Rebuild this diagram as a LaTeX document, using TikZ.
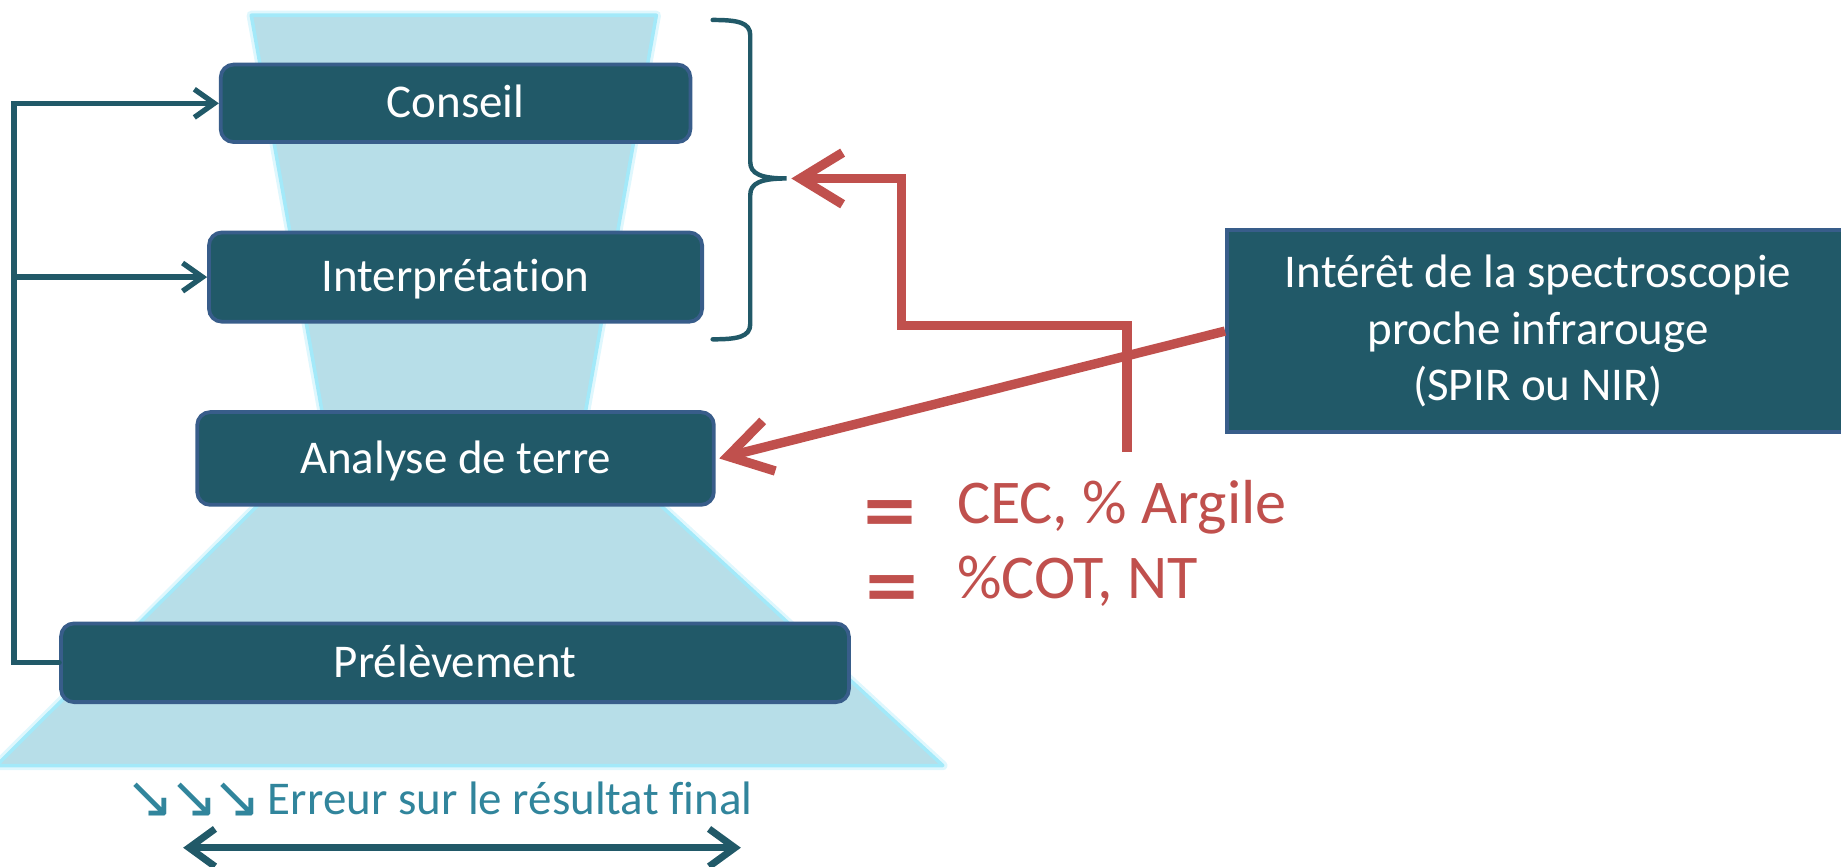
\documentclass[tikz,border=0pt]{standalone}
\usepackage{fontspec}
\setmainfont{Carlito}[Ligatures=NoCommon]
\newfontfamily\dejavu{DejaVu Sans}
\usetikzlibrary{arrows.meta}

\definecolor{boxfill}{HTML}{215968}
\definecolor{boxline}{HTML}{385D8A}
\definecolor{funnel}{HTML}{B7DEE8}
\definecolor{funnelglow}{HTML}{A3E9F9}
\definecolor{accent}{HTML}{C0504D}
\definecolor{note}{HTML}{31859C}

\begin{document}
\begin{tikzpicture}[x=1pt,y=-1pt,
  stepbox/.style={draw=boxline, line width=3.2pt, fill=boxfill, rounded corners=11pt,
    text=white, font=\fontsize{40}{46}\selectfont, text height=25pt, text depth=0pt, inner sep=0pt},
  infobox/.style={draw=boxline, line width=3.2pt, fill=boxfill, text=white,
    font=\fontsize{40}{48}\selectfont, align=center, inner sep=0pt},
  funnelpart/.style={fill=funnel, draw=funnelglow, line width=3pt, line join=round},
  funnelhalo/.style={draw=funnelglow, line width=8pt, line join=round, opacity=.35},
  feed/.style={draw=boxfill, line width=4.5pt, line cap=round, -{Straight Barb[length=17pt,width=24pt]}},
  spir/.style={draw=accent, line width=8pt, -{Straight Barb[length=36pt,width=44pt]}},
  span/.style={draw=boxfill, line width=6pt, {Straight Barb[length=22pt,width=32pt]}-{Straight Barb[length=22pt,width=32pt]}},
  bracket/.style={draw=boxfill, line width=3.8pt, line cap=round},
  eqmark/.style={text=accent, font=\dejavu\bfseries\fontsize{60}{60}\selectfont, inner sep=0pt, anchor=base},
  result/.style={text=accent, font=\fontsize{53}{60}\selectfont, inner sep=0pt, anchor=base west},
  caption/.style={text=note, font=\fontsize{40}{46}\selectfont, inner sep=0pt, anchor=base west}
]
\useasboundingbox (0,0) rectangle (1568,738);
\clip (0,0) rectangle (1568,738);

% funnel behind the steps: narrow upper part, wide lower part
\draw[funnelhalo] (214,13) -- (559,13) -- (497,360) -- (276,360) -- cycle;
\draw[funnelhalo] (222,428) -- (560,428) -- (803,652) -- (-3,652) -- cycle;
\draw[funnelpart] (214,13) -- (559,13) -- (497,360) -- (276,360) -- cycle;
\draw[funnelpart] (222,428) -- (560,428) -- (803,652) -- (-3,652) -- cycle;

% steps of the soil analysis chain
\node[stepbox, minimum width=400pt, minimum height=66pt] (con) at (388,88) {Conseil};
\node[stepbox, minimum width=420pt, minimum height=76pt] (int) at (388,236) {Interprétation};
\node[stepbox, minimum width=440pt, minimum height=79pt] (ana) at (388,390.5) {Analyse de terre};
\node[stepbox, minimum width=671pt, minimum height=67pt] (pre) at (387.5,564.5) {Prélèvement};

% near-infrared spectroscopy box
\node[infobox, minimum width=530pt, minimum height=172pt] (nir) at (1310,282)
  {Intérêt de la spectroscopie\\proche infrarouge\\(SPIR ou NIR)};

% feedback rail on the left
\coordinate (rail) at (12,0);
\draw[feed] (pre.west) -- (pre.west -| rail) |- (con.west);
\draw[feed] (rail |- int.west) -- (int.west);

% brace grouping Conseil and Interprétation
\coordinate (bracetip) at (670,152);
\draw[bracket] (607,17) .. controls (628,17) and (639,19) .. (639,30) -- (639,138)
  .. controls (639,148) and (648,152) .. (bracetip)
  .. controls (648,152) and (639,156) .. (639,166) -- (639,276)
  .. controls (639,287) and (628,289) .. (607,289);

% red arrows
\coordinate (cecfoot) at (960,385);
\draw[spir] (cecfoot) -- (960,277) -| (768,152) -- ([xshift=4pt]bracetip);
\draw[spir] (nir.west) -- ([xshift=3pt]ana.east);

% measured parameters
\node[eqmark] (eq1) at (758,455) {=};
\node[eqmark] (eq2) at (760,519) {=};
\node[result] (cec) at (815,446) {CEC, \% Argile};
\node[result] (cot) at (815,510) {\%COT, NT};

% error caption and span arrow
\node[caption, font=\dejavu\fontsize{50}{50}\selectfont] (down) at (107,696)
  {↘\kern-5pt↘\kern-5pt↘};
\node[caption] (err) at (228,694) {Erreur sur le résultat final};
\coordinate (errL) at (156,722);
\coordinate (errR) at (631,722);
\draw[span] (errL) -- (errR);
\end{tikzpicture}
\end{document}
